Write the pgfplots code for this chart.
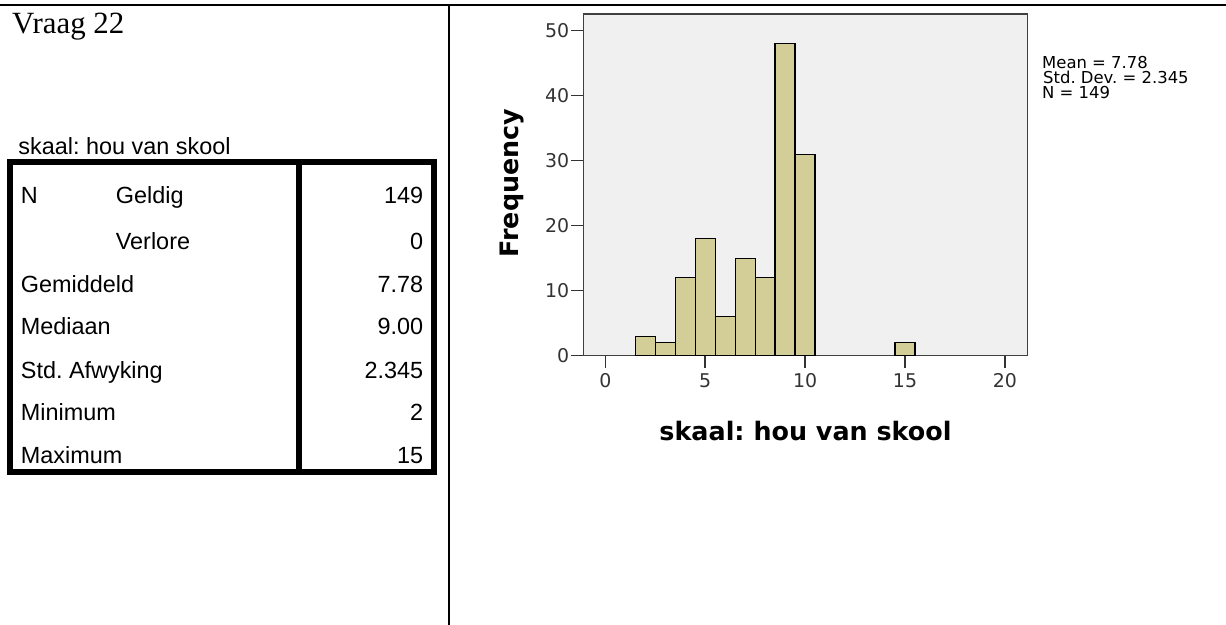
\documentclass[border=0pt]{standalone}
\usepackage{pgfplots}
\pgfplotsset{compat=1.18}
\usepackage{fontspec}
\setmainfont{Liberation Sans}
\newfontfamily\timesf{Liberation Serif}
\newfontfamily\dejavu{DejaVu Sans}
\definecolor{bargold}{RGB}{211,206,151}
\definecolor{bggray}{RGB}{240,240,240}
\frenchspacing
\begin{document}
\begin{tikzpicture}[x=1bp,y=1bp,
  tl/.style={anchor=base west, inner sep=0, font=\frenchspacing\fontsize{23.5}{26}\selectfont},
  tr/.style={anchor=base east, inner sep=0, font=\frenchspacing\fontsize{23.5}{26}\selectfont}]
\path[use as bounding box] (0,0) rectangle (1226,-625);
\draw[line width=2bp] (0,-5) -- (1226,-5);
\draw[line width=2.5bp] (449,-5) -- (449,-625);
\node[anchor=base west, inner sep=0, font=\timesf\fontsize{31}{34}\selectfont] at (12,-33.3) {Vraag 22};
\node[anchor=base west, inner sep=0, font=\frenchspacing\fontsize{23.5}{26}\selectfont] at (18.3,-155) {skaal: hou van skool};
\draw[line width=6bp] (9.7,-162.2) rectangle (433.7,-471.7);
\draw[line width=6bp] (298.7,-162.2) -- (298.7,-471.7);
\node[tl] at (20.7,-204) {N};
\node[tl] at (115.7,-204) {Geldig};
\node[tr] at (423.3,-204) {149};
\node[tl] at (115.7,-250) {Verlore};
\node[tr] at (423.3,-250) {0};
\node[tl] at (20.7,-292.7) {Gemiddeld};
\node[tr] at (423.3,-292.7) {7.78};
\node[tl] at (20.7,-335) {Mediaan};
\node[tr] at (423.3,-335) {9.00};
\node[tl] at (20.7,-378.3) {Std. Afwyking};
\node[tr] at (423.3,-378.3) {2.345};
\node[tl] at (20.7,-420.7) {Minimum};
\node[tr] at (423.3,-420.7) {2};
\node[tl] at (20.7,-463.3) {Maximum};
\node[tr] at (423.3,-463.3) {15};
\begin{axis}[at={(583.3bp,-355.7bp)}, anchor=south west, scale only axis,
  width=444.4bp, height=341.7bp,
  xmin=-1.1, xmax=21.14, ymin=0, ymax=52.57,
  axis background/.style={fill=bggray},
  axis line style={draw=black!75, line width=1.5bp},
  xtick={0,5,10,15,20}, ytick={0,10,20,30,40,50},
  tick align=outside, xtick pos=bottom, ytick pos=left,
  major tick length=12bp,
  every tick/.style={black!80, line width=1.5bp},
  /pgf/number format/assume math mode=true,
  ticklabel style={font=\dejavu\fontsize{19}{19}\selectfont, text=black!80},
  yticklabel style={inner sep=2bp},
  xticklabel style={inner sep=6bp},
  xlabel={skaal: hou van skool}, ylabel={Frequency},
  every axis x label/.style={at={(rel axis cs:0.5,-0.2467)}, anchor=base, inner sep=0, font=\frenchspacing\dejavu\bfseries\fontsize{25.5}{25.5}\selectfont},
  every axis y label/.style={at={(rel axis cs:-0.1604,0.505)}, rotate=90, anchor=center, inner sep=0, font=\dejavu\bfseries\fontsize{25.5}{25.5}\selectfont},
]
\addplot[ybar, bar width=1, bar shift=0pt, fill=bargold, draw=black, line width=1.3bp]
  coordinates {(2,3) (3,2) (4,12) (5,18) (6,6) (7,15) (8,12) (9,48) (10,31) (15,2)};
\end{axis}
\node[anchor=base west, inner sep=0, font=\frenchspacing\dejavu\fontsize{16.5}{16.5}\selectfont] at (1042,-68.3) {Mean = 7.78};
\node[anchor=base west, inner sep=0, font=\frenchspacing\dejavu\fontsize{16.5}{16.5}\selectfont] at (1043,-83.3) {Std. Dev. = 2.345};
\node[anchor=base west, inner sep=0, font=\frenchspacing\dejavu\fontsize{16.5}{16.5}\selectfont] at (1042,-98.3) {N = 149};
\end{tikzpicture}
\end{document}
